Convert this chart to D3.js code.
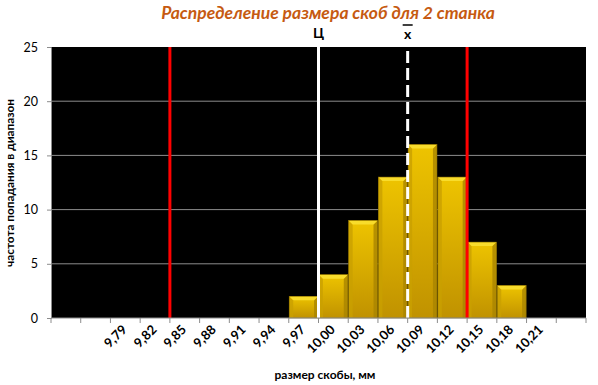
<!DOCTYPE html>
<html><head><meta charset="utf-8">
<script src="https://cdn.jsdelivr.net/npm/d3@7"></script>
<style>
html,body{margin:0;padding:0;background:#fff;}
svg{display:block;}
text{font-family:Lato,"Noto Sans",sans-serif;}
</style></head>
<body>
<svg id="c" width="598" height="385"></svg>
<script>
const categories = ["", "", "9,79","9,82","9,85","9,88","9,91","9,94","9,97","10,00","10,03","10,06","10,09","10,12","10,15","10,18","10,21",""];
const counts =     [0, 0, 0, 0, 0, 0, 0, 0, 2, 4, 9, 13, 16, 13, 7, 3, 0, 0];
const yTicks = [0, 5, 10, 15, 20, 25];
const limitLines = [9.835, 10.135];   // red tolerance limits
const centerLine = [9.985];           // Ц
const meanLine = [10.075];            // x̄
const title = "Распределение размера скоб для 2 станка";
const xTitle = "размер скобы, мм";
const yTitle = "частота попадания  в диапазон";

const svg = d3.select("#c");
const L = 51, R = 586, T = 47, B = 318;

const x = d3.scaleBand().domain(d3.range(categories.length)).range([L, R]).paddingInner(0.03).paddingOuter(0.015);
const xv = d3.scaleLinear().domain([9.715, 10.255]).range([L, R]);
const y = d3.scaleLinear().domain([0, 25]).range([B, T]);

const defs = svg.append("defs");
const g1 = defs.append("linearGradient").attr("id","bar").attr("x1",0).attr("y1",0).attr("x2",0).attr("y2",1);
g1.append("stop").attr("offset","0%").attr("stop-color","#EEC400");
g1.append("stop").attr("offset","100%").attr("stop-color","#C09200");

// title
svg.append("text").attr("x", 328).attr("y", 19).attr("text-anchor","middle")
  .attr("font-size", 17.5).attr("font-weight","bold").attr("font-style","italic")
  .attr("fill","#C65A11").text(title);

// plot background
svg.append("rect").attr("x", L).attr("y", T).attr("width", R-L).attr("height", B-T).attr("fill","#000");

// gridlines
svg.append("g").selectAll("line").data(yTicks.filter(d=>d>0 && d<25)).join("line")
  .attr("x1", L).attr("x2", R).attr("y1", d=>y(d)).attr("y2", d=>y(d))
  .attr("stroke","#8c8c8c").attr("stroke-width",1);

// bars
const bars = svg.append("g").selectAll("g").data(counts.map((v,i)=>({v,i})).filter(d=>d.v>0)).join("g");
bars.each(function(d){
  const gg = d3.select(this);
  const x0 = x(d.i), w = x.bandwidth(), x1 = x0 + w, y0 = y(d.v), y1 = y(0), b = 4;
  gg.append("rect").attr("x", x0).attr("y", y0).attr("width", w).attr("height", y1-y0).attr("fill","url(#bar)");
  gg.append("polygon").attr("points", `${x0},${y0} ${x0+b},${y0+b} ${x0+b},${y1} ${x0},${y1}`).attr("fill","#C9A000").attr("opacity",0.8);
  gg.append("polygon").attr("points", `${x1},${y0} ${x1-b},${y0+b} ${x1-b},${y1} ${x1},${y1}`).attr("fill","#A98500").attr("opacity",0.8);
  gg.append("polygon").attr("points", `${x0},${y0} ${x1},${y0} ${x1-b},${y0+b} ${x0+b},${y0+b}`).attr("fill","#F8DC2C");
  gg.append("rect").attr("x", x0).attr("y", y0).attr("width", w).attr("height", y1-y0).attr("fill","none").attr("stroke","#8E7000").attr("stroke-width",0.6);
});

// vertical lines
svg.append("g").selectAll("line").data(limitLines).join("line")
  .attr("x1", d=>xv(d)).attr("x2", d=>xv(d)).attr("y1", T).attr("y2", B)
  .attr("stroke","#FF0000").attr("stroke-width",3);
svg.append("g").selectAll("line").data(centerLine).join("line")
  .attr("x1", d=>xv(d)).attr("x2", d=>xv(d)).attr("y1", T).attr("y2", B)
  .attr("stroke","#FFFFFF").attr("stroke-width",3);
svg.append("g").selectAll("line").data(meanLine).join("line")
  .attr("x1", d=>xv(d)).attr("x2", d=>xv(d)).attr("y1", B).attr("y2", T)
  .attr("stroke","#FFFFFF").attr("stroke-width",3).attr("stroke-dasharray","12,5");

// line labels
svg.append("text").attr("x", xv(centerLine[0])).attr("y", 38).attr("text-anchor","middle")
  .attr("font-size",14).attr("font-weight","bold").attr("fill","#000").text("Ц");
svg.append("text").attr("x", xv(meanLine[0])).attr("y", 39).attr("text-anchor","middle")
  .attr("font-size",14).attr("font-weight","bold").attr("fill","#000").text("x");
svg.append("line").attr("x1", xv(meanLine[0])-5).attr("x2", xv(meanLine[0])+5).attr("y1",25).attr("y2",25)
  .attr("stroke","#000").attr("stroke-width",1.5);

// y axis
const yAxis = d3.axisLeft(y).tickValues(yTicks).tickSize(4).tickPadding(9);
const ya = svg.append("g").attr("transform",`translate(${L},0)`).call(yAxis);
ya.select(".domain").attr("stroke","#8c8c8c");
ya.selectAll(".tick line").attr("stroke","#8c8c8c");
ya.selectAll(".tick text").attr("font-size",12.5).attr("fill","#000").style("font-family","Lato,'Noto Sans',sans-serif");

// x axis (ticks at category boundaries)
const xa = svg.append("g").attr("transform",`translate(0,${B})`);
xa.append("line").attr("x1",L).attr("x2",R).attr("stroke","#8c8c8c");
const bounds = d3.range(categories.length+1).map(i => L + i*(R-L)/categories.length);
xa.selectAll("line.t").data(bounds).join("line").attr("class","t")
  .attr("x1",d=>d).attr("x2",d=>d).attr("y1",0).attr("y2",5).attr("stroke","#8c8c8c");
xa.selectAll("text").data(categories.map((c,i)=>({c,i})).filter(d=>d.c)).join("text")
  .attr("transform", d=>`translate(${x(d.i)+x.bandwidth()/2-4},${6}) rotate(-45)`)
  .attr("text-anchor","end").attr("dy","0.7em")
  .attr("font-size",13).attr("font-weight","bold").attr("fill","#000").text(d=>d.c);

// axis titles
svg.append("text").attr("x", 325).attr("y", 379).attr("text-anchor","middle")
  .attr("font-size",12).attr("font-weight","bold").attr("fill","#000").text(xTitle);
svg.append("text").attr("transform","translate(14,183) rotate(-90)").attr("text-anchor","middle")
  .attr("font-size",11.8).attr("font-weight","bold").attr("fill","#000").text(yTitle);
</script>
</body></html>
